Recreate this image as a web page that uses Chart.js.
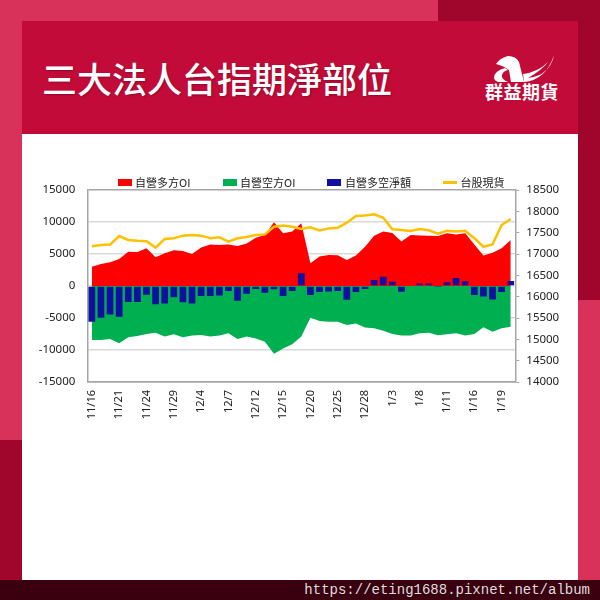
<!DOCTYPE html>
<html>
<head>
<meta charset="utf-8">
<script src="https://cdn.jsdelivr.net/npm/chart.js@4.4.0/dist/chart.umd.min.js"></script>
<style>
  html, body { margin: 0; padding: 0; }
  body {
    width: 600px; height: 600px; position: relative; overflow: hidden;
    background: #d9325a;
    font-family: "Noto Sans CJK TC", "Noto Sans", sans-serif;
  }
  .abs { position: absolute; }
  #darkTR { left: 438px; top: 0; width: 162px; height: 300px; background: #a0062c; }
  #darkBL { left: 0; top: 440px; width: 22px; height: 140px; background: #a0062c; }
  #header { left: 22px; top: 21px; width: 556px; height: 113px; background: #c20b38; }
  #title {
    left: 42px; top: 60px; font-size: 35px; line-height: 35px; color: #fff;
    font-weight: 500; text-shadow: 1px 1px 2px rgba(0,0,0,0.25); white-space: nowrap;
  }
  #logoText {
    left: 485px; top: 82px; font-size: 18px; line-height: 18px; color: #fff;
    font-weight: 700; letter-spacing: 0.5px; white-space: nowrap;
  }
  #card { left: 22px; top: 134px; width: 556px; height: 446px; background: #fff; }
  #chartBox { left: 22px; top: 134px; width: 556px; height: 444px; }
  #footer {
    left: 0; top: 580px; width: 600px; height: 20px; background: #3a0010;
    color: #dedede; font-family: "Liberation Mono", monospace; font-size: 14px;
    line-height: 20px; text-align: right; box-sizing: border-box; padding-right: 10px;
  }
</style>
</head>
<body>
<div id="darkTR" class="abs"></div>
<div id="darkBL" class="abs"></div>
<div id="header" class="abs"></div>
<div id="title" class="abs">三大法人台指期淨部位</div>
<svg class="abs" style="left:488px;top:52px" width="70" height="34" viewBox="488 52 70 34">
  <path d="M496 64 Q500 58 508 56 Q516 56 519 62 L524 82 L511 82 L509 70 Q504 66 496 64 Z" fill="#fff"/>
  <path d="M505 68 Q494 71 494 78 Q495 82 500 82 L508 82 Q501 79 502 75 Q503 71 508 70 Z" fill="#fff"/>
  <path d="M524 82 Q546 80 554 55 Q552 66 544 72 Q540 76 528 78 Q542 70 548 62 Q538 72 523 74 Z" fill="#fff"/>
</svg>
<div id="logoText" class="abs">群益期貨</div>
<div id="card" class="abs"></div>
<div id="chartBox" class="abs"><canvas id="oiChart" width="556" height="444"></canvas></div>
<div id="footer" class="abs">https://eting1688.pixnet.net/album</div>

<script>
// --- Data ---
const dates = [
  '11/16', '11/17', '11/20', '11/21', '11/22', '11/23', '11/24', '11/27', '11/28', '11/29',
  '11/30', '12/1', '12/4', '12/5', '12/6', '12/7', '12/8', '12/11', '12/12', '12/13',
  '12/14', '12/15', '12/18', '12/19', '12/20', '12/21', '12/22', '12/25', '12/26', '12/27',
  '12/28', '12/29', '1/2', '1/3', '1/4', '1/5', '1/8', '1/9', '1/10', '1/11',
  '1/12', '1/15', '1/16', '1/17', '1/18', '1/19', '1/22'
];
// only these dates get a tick label
const shownDates = ['11/16', '11/21', '11/24', '11/29', '12/4', '12/7', '12/12', '12/15',
  '12/20', '12/25', '12/28', '1/3', '1/8', '1/11', '1/16', '1/19'];

const longOI = [
  3000, 3450, 3700, 4200, 5350, 5300, 5900, 4500, 5100, 5600,
  5450, 5000, 6000, 6500, 6400, 6500, 6250, 6650, 7550, 7950,
  9950, 8250, 8500, 9800, 3550, 4600, 4850, 4800, 4050, 4750,
  6150, 7850, 8500, 8300, 6950, 7950, 7900, 7850, 7800, 8250,
  8050, 8250, 6500, 4750, 5200, 5900, 7200
];
const shortOI = [
  -8450, -8450, -8300, -8950, -8000, -7800, -7500, -7300, -7900, -7550,
  -8000, -7750, -7650, -7900, -7750, -7400, -8300, -7900, -8200, -8700,
  -10600, -9750, -9100, -7900, -4950, -5450, -5600, -5600, -6100, -5850,
  -6500, -6600, -7000, -7500, -7750, -7750, -7400, -7300, -7700, -7550,
  -7400, -7750, -7500, -6450, -7150, -6600, -6350
];
const netOI = [
  -5600, -4950, -4450, -4800, -2500, -2500, -1350, -2850, -2750, -1750,
  -2550, -2750, -1550, -1550, -1500, -800, -2300, -1200, -450, -1050,
  -500, -1550, -800, 2000, -1400, -950, -850, -800, -2150, -950,
  -450, 950, 1450, 650, -900, 100, 400, 400, -50, 600,
  1250, 750, -1400, -1650, -2100, -950, 800
];
const taiex = [
  17180, 17210, 17220, 17420, 17330, 17310, 17300, 17150, 17350, 17370,
  17430, 17445, 17430, 17370, 17390, 17290, 17370, 17400, 17445, 17460,
  17640, 17665, 17640, 17585, 17625, 17550, 17600, 17615, 17735, 17890,
  17905, 17930, 17850, 17580, 17560, 17540, 17585, 17555, 17475, 17545,
  17525, 17545, 17370, 17170, 17225, 17680, 17820
];

const leftMin = -15000, leftMax = 15000, leftStep = 5000;
const rightMin = 14000, rightMax = 18500, rightStep = 500;

// --- Styling ---
const RED = '#ff0000';
const GREEN = '#00b050';
const NAVY = '#1010a0';
const GOLD = '#ffc000';
const AXIS_GREY = '#a6a6a6';
const GRID_GREY = '#d9d9d9';
const tickFont = { family: '"Noto Sans", sans-serif', size: 11.5 };

function makeMarker(color, w, h) {
  const c = document.createElement('canvas');
  c.width = w;
  c.height = h;
  const g = c.getContext('2d');
  g.fillStyle = color;
  g.fillRect(0, 0, w, h);
  return c;
}
const markers = [
  makeMarker(RED, 14, 7),
  makeMarker(GREEN, 14, 7),
  makeMarker(NAVY, 14, 7),
  makeMarker(GOLD, 14, 3)
];

// keep the legend tight above the plot and a bit right of centre (like the Excel original)
const LEGEND_H = 47;
const LEGEND_SHIFT = 12;
const legendFit = {
  id: 'legendFit',
  beforeLayout(chart) {
    const lg = chart.legend;
    if (lg && !lg._fitPatched) {
      const origFit = lg.fit;
      lg.fit = function () {
        origFit.call(this);
        this.height = LEGEND_H;
      };
      lg._fitPatched = true;
    }
  },
  afterLayout(chart) {
    const lg = chart.legend;
    if (lg) {
      lg.left += LEGEND_SHIFT;
      lg.right += LEGEND_SHIFT;
    }
  }
};

const plainNumber = (v) => String(v);

const ctx = document.getElementById('oiChart').getContext('2d');
new Chart(ctx, {
  type: 'bar',
  data: {
    labels: dates,
    datasets: [
      {
        type: 'line',
        label: '自營多方OI',
        data: longOI,
        yAxisID: 'y',
        backgroundColor: RED,
        borderColor: RED,
        borderWidth: 0,
        pointRadius: 0,
        tension: 0,
        fill: 'origin',
        order: 3
      },
      {
        type: 'line',
        label: '自營空方OI',
        data: shortOI,
        yAxisID: 'y',
        backgroundColor: GREEN,
        borderColor: GREEN,
        borderWidth: 0,
        pointRadius: 0,
        tension: 0,
        fill: 'origin',
        order: 3
      },
      {
        type: 'bar',
        label: '自營多空淨額',
        data: netOI,
        yAxisID: 'y',
        backgroundColor: NAVY,
        barPercentage: 0.74,
        categoryPercentage: 1,
        order: 2
      },
      {
        type: 'line',
        label: '台股現貨',
        data: taiex,
        yAxisID: 'y1',
        borderColor: GOLD,
        backgroundColor: GOLD,
        borderWidth: 2.5,
        pointRadius: 0,
        tension: 0,
        fill: false,
        order: 1
      }
    ]
  },
  options: {
    responsive: false,
    animation: false,
    layout: { padding: { left: 0, right: 0, top: 9, bottom: 0 } },
    plugins: {
      tooltip: { enabled: false },
      legend: {
        position: 'top',
        labels: {
          usePointStyle: true,
          pointStyleWidth: 10,
          padding: 34,
          color: '#222',
          font: { family: '"Noto Sans CJK TC", sans-serif', size: 11 },
          sort: (a, b) => a.datasetIndex - b.datasetIndex,
          generateLabels(chart) {
            const items = Chart.defaults.plugins.legend.labels.generateLabels(chart);
            items.forEach(it => { it.pointStyle = markers[it.datasetIndex]; });
            return items;
          }
        }
      }
    },
    scales: {
      x: {
        offset: true,
        grid: { display: false, drawTicks: false },
        border: { display: true, color: AXIS_GREY, width: 1.5 },
        ticks: {
          autoSkip: false,
          minRotation: 90,
          maxRotation: 90,
          padding: 8,
          color: '#222',
          font: { family: '"Noto Sans", sans-serif', size: 11 },
          callback: (value, index) => shownDates.includes(dates[index]) ? dates[index] : ''
        },
        afterFit: (scale) => { scale.height = 196; }
      },
      y: {
        position: 'left',
        min: leftMin,
        max: leftMax,
        ticks: { stepSize: leftStep, padding: 12, color: '#222', font: tickFont, callback: plainNumber },
        grid: {
          color: (c) => (c.tick && Math.abs(c.tick.value) === leftMax) ? AXIS_GREY : GRID_GREY,
          lineWidth: 1.5,
          drawTicks: false
        },
        border: { display: true, color: AXIS_GREY, width: 1.5 },
        afterFit: (scale) => { scale.width = 65.3; }
      },
      y1: {
        position: 'right',
        min: rightMin,
        max: rightMax,
        ticks: { stepSize: rightStep, padding: 7, color: '#222', font: tickFont, callback: plainNumber },
        grid: { drawOnChartArea: false, tickLength: 4, color: AXIS_GREY },
        border: { display: true, color: AXIS_GREY, width: 1.5 },
        afterFit: (scale) => { scale.width = 62.7; }
      }
    }
  },
  plugins: [legendFit]
});
</script>
</body>
</html>
